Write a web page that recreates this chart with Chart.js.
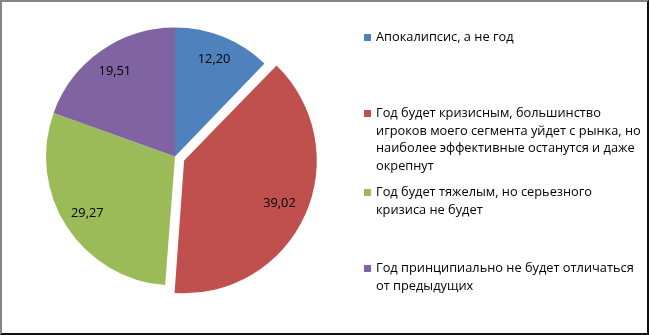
<!DOCTYPE html>
<html>
<head>
<meta charset="utf-8">
<script src="https://cdn.jsdelivr.net/npm/chart.js@4"></script>
<style>
    body { margin: 0; background: #fff; }
    #wrap { position: relative; width: 650px; height: 335px; overflow: hidden; }
    #frame {
        position: absolute; left: 0; top: 0; width: 649px; height: 335px;
        box-sizing: border-box; pointer-events: none;
        border-left: 2px solid #858585; border-top: 2px solid #858585;
        border-right: 2px solid #111; border-bottom: 2px solid #111;
    }
    #legend { position: absolute; left: 364px; top: 0; font-family: "Open Sans", sans-serif; font-size: 12.8px; color: #000; }
    .item { position: absolute; left: 0; white-space: nowrap; line-height: 17.5px; }
    .box { position: absolute; left: 0; top: 6px; width: 7px; height: 7px; }
    .txt { position: absolute; left: 12px; top: 0; }
</style>
</head>
<body>
<div id="wrap">
    <canvas id="chart"></canvas>
    <div id="legend"></div>
    <div id="frame"></div>
</div>
<script>
// Chart data
const categories = [
    ['Апокалипсис, а не год'],
    ['Год будет кризисным, большинство', 'игроков моего сегмента уйдет с рынка, но', 'наиболее эффективные останутся и даже', 'окрепнут'],
    ['Год будет тяжелым, но серьезного', 'кризиса не будет'],
    ['Год принципиально не будет отличаться', 'от предыдущих']
];
const values = [12.20, 39.02, 29.27, 19.51];
const valueLabels = ['12,20', '39,02', '29,27', '19,51'];
const colors = ['#4F81BD', '#C0504D', '#9BBB59', '#8064A2'];
const explode = [0, 40, 0, 0];

// legend rows (top of each block)
const legendTops = [28, 104, 183, 259];

// build html legend
const legendEl = document.getElementById('legend');
categories.forEach((lines, i) => {
    const item = document.createElement('div');
    item.className = 'item';
    item.style.top = legendTops[i] + 'px';
    item.innerHTML = '<span class="box" style="background:' + colors[i] + '"></span>' +
        '<span class="txt">' + lines.join('<br>') + '</span>';
    legendEl.appendChild(item);
});

// value labels inside slices
const sliceLabels = {
    id: 'sliceLabels',
    afterDatasetsDraw(chart) {
        const ctx = chart.ctx;
        const meta = chart.getDatasetMeta(0);
        ctx.save();
        ctx.font = '12.8px "Open Sans", sans-serif';
        ctx.fillStyle = '#000';
        ctx.textAlign = 'center';
        ctx.textBaseline = 'middle';
        meta.data.forEach((arc, i) => {
            const mid = (arc.startAngle + arc.endAngle) / 2;
            const shift = explode[i] / 4;
            const r = arc.outerRadius * 0.81 + shift;
            ctx.fillText(valueLabels[i], arc.x + Math.cos(mid) * r, arc.y + Math.sin(mid) * r);
        });
        ctx.restore();
    }
};

new Chart(document.getElementById('chart'), {
    type: 'pie',
    data: {
        labels: categories,
        datasets: [{
            data: values,
            backgroundColor: colors,
            borderWidth: 0,
            offset: explode,
            radius: 129
        }]
    },
    options: {
        responsive: true,
        maintainAspectRatio: false,
        animation: false,
        events: [],
        layout: { padding: { left: 41, right: 341, top: 23, bottom: 45 } },
        plugins: {
            legend: { display: false },
            tooltip: { enabled: false }
        }
    },
    plugins: [sliceLabels]
});
</script>
</body>
</html>
